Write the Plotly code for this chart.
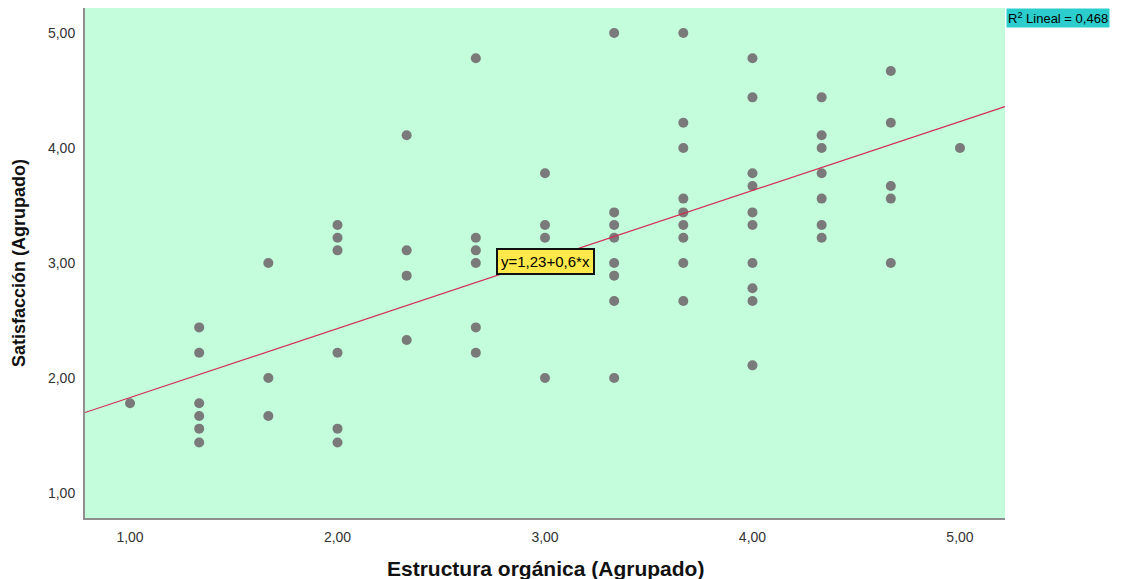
import plotly.graph_objects as go

# Grouped data
x_groups = [1.0, 4/3, 5/3, 2.0, 7/3, 8/3, 3.0, 10/3, 11/3, 4.0, 13/3, 14/3, 5.0]
y_groups = [
    [1.78],
    [2.44, 2.22, 1.78, 1.67, 1.56, 1.44],
    [3.00, 2.00, 1.67],
    [3.33, 3.22, 3.11, 2.22, 1.56, 1.44],
    [4.11, 3.11, 2.89, 2.33],
    [4.78, 3.22, 3.11, 3.00, 2.44, 2.22],
    [3.78, 3.33, 3.22, 2.00],
    [5.00, 3.44, 3.33, 3.22, 3.00, 2.89, 2.67, 2.00],
    [5.00, 4.22, 4.00, 3.56, 3.44, 3.33, 3.22, 3.00, 2.67],
    [4.78, 4.44, 3.78, 3.67, 3.44, 3.33, 3.00, 2.78, 2.67, 2.11],
    [4.44, 4.11, 4.00, 3.78, 3.56, 3.33, 3.22],
    [4.67, 4.22, 3.67, 3.56, 3.00],
    [4.00],
]
intercept = 1.23
slope = 0.6
r2_text = "R<sup>2</sup> Lineal = 0,468"
eq_text = "y=1,23+0,6*x"
x_title = "<b>Estructura orgánica (Agrupado)</b>"
y_title = "<b>Satisfacción (Agrupado)</b>"
tick_vals = [1, 2, 3, 4, 5]

xs, ys = [], []
for xv, yl in zip(x_groups, y_groups):
    for yv in yl:
        xs.append(xv)
        ys.append(yv)

x_range = [0.783, 5.217]
y_range = [0.783, 5.217]
FONT = "Liberation Sans, Arial"

fig = go.Figure()
fig.add_trace(go.Scatter(
    x=xs, y=ys, mode="markers",
    marker=dict(size=10, color="#7a7a7a", line=dict(width=0)),
    showlegend=False, hoverinfo="x+y"))
fig.add_trace(go.Scatter(
    x=x_range, y=[intercept + slope * v for v in x_range], mode="lines",
    line=dict(color="#d6284f", width=1.2), showlegend=False, hoverinfo="skip"))

fig.add_annotation(x=3.0, y=3.0, xref="x", yref="y", yshift=2, text=eq_text, showarrow=False,
                   bgcolor="#ffe94a", bordercolor="#111111", borderwidth=2, borderpad=3,
                   font=dict(family=FONT, size=15, color="#000000"))
fig.add_annotation(x=1.0, y=1.0, xref="paper", yref="paper", xanchor="left", yanchor="top",
                   xshift=1, text=r2_text, showarrow=False, bgcolor="#2ccdcd", borderpad=1,
                   font=dict(family=FONT, size=13, color="#000000"))
fig.add_annotation(x=0.5, y=0, xref="paper", yref="paper", xanchor="center", yanchor="middle",
                   yshift=-50, text=x_title, showarrow=False,
                   font=dict(family=FONT, size=21, color="#111111"))
fig.add_annotation(x=0, y=0.5, xref="paper", yref="paper", xanchor="center", yanchor="middle",
                   xshift=-66, textangle=-90, text=y_title, showarrow=False,
                   font=dict(family=FONT, size=18, color="#111111"))

axis_common = dict(showgrid=False, zeroline=False, showline=True, automargin=False,
                   linecolor="#8f8f8f", linewidth=2, ticks="outside", ticklen=5,
                   tickcolor="rgba(0,0,0,0)", tickvals=tick_vals, tickformat=".2f",
                   tickfont=dict(family=FONT, size=14, color="#333333"))

fig.update_xaxes(**axis_common, range=x_range)
fig.update_yaxes(**axis_common, range=y_range)

# The page body adds an 8px margin, so the figure is sized/offset to compensate.
fig.update_layout(
    width=1116, height=571,
    margin=dict(l=77, r=119, t=0, b=61, autoexpand=False),
    plot_bgcolor="#c3fddb", paper_bgcolor="#ffffff",
    separators=",.",
)

fig.write_html("out.html")
